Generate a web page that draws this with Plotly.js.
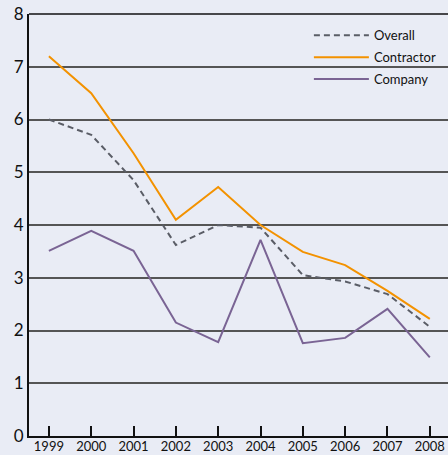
<!DOCTYPE html>
<html>
<head>
<meta charset="utf-8">
<script src="https://cdn.plot.ly/plotly-3.0.1.min.js"></script>
<style>html,body{margin:0;padding:0;background:#e9ecf5;}#chart{width:448px;height:455px;}</style>
</head>
<body>
<div id="chart"></div>
<script>
const years = [1999, 2000, 2001, 2002, 2003, 2004, 2005, 2006, 2007, 2008];
const overall = [6.0, 5.71, 4.85, 3.62, 4.0, 3.95, 3.05, 2.93, 2.69, 2.07];
const contractor = [7.2, 6.5, 5.36, 4.1, 4.72, 4.0, 3.49, 3.24, 2.75, 2.22];
const company = [3.51, 3.89, 3.51, 2.15, 1.78, 3.72, 1.76, 1.86, 2.41, 1.49];
const yTicks = [0, 1, 2, 3, 4, 5, 6, 7, 8];

const font = "Lato, 'Open Sans', sans-serif";
const traces = [
  {x: years, y: overall, name: 'Overall', type: 'scatter', mode: 'lines', legendgroup: 'a',
   line: {color: '#5a5d66', width: 2, dash: '6px,4px'}},
  {x: years, y: contractor, name: 'Contractor', type: 'scatter', mode: 'lines', legendgroup: 'b',
   line: {color: '#f39200', width: 2}},
  {x: years, y: company, name: 'Company', type: 'scatter', mode: 'lines', legendgroup: 'c',
   line: {color: '#7a6494', width: 2}}
];
const layout = {
  width: 448, height: 455,
  margin: {l: 29, r: 0, t: 14, b: 19},
  paper_bgcolor: '#e9ecf5', plot_bgcolor: '#e9ecf5',
  font: {family: font, color: '#111', size: 13},
  showlegend: true,
  legend: {x: 0.668, y: 0.985, xanchor: 'left', yanchor: 'top', bgcolor: 'rgba(0,0,0,0)',
           font: {family: font, size: 13, color: '#111'}, itemwidth: 55,
           traceorder: 'grouped', tracegroupgap: 2},
  xaxis: {range: [1998.53, 2008.43], tickvals: years, ticktext: years.map(String),
          ticks: 'inside', ticklen: 10, tickwidth: 2, tickcolor: '#111',
          showline: true, linecolor: '#111', linewidth: 2, mirror: false,
          ticklabelstandoff: -3,
          showgrid: false, zeroline: false, tickfont: {size: 13, family: font}},
  yaxis: {range: [0, 8], tickvals: yTicks, ticktext: yTicks.map(String),
          showline: true, linecolor: '#111', linewidth: 2,
          showgrid: true, gridcolor: '#555555', gridwidth: 1.5, zeroline: false,
          ticks: '', tickfont: {size: 17, family: font}},
  shapes: [{type: 'line', xref: 'paper', yref: 'paper', x0: 0, x1: 1, y0: 1, y1: 1,
            line: {color: '#111', width: 1.5}}]
};
Plotly.newPlot('chart', traces, layout, {displayModeBar: false});
</script>
</body>
</html>
